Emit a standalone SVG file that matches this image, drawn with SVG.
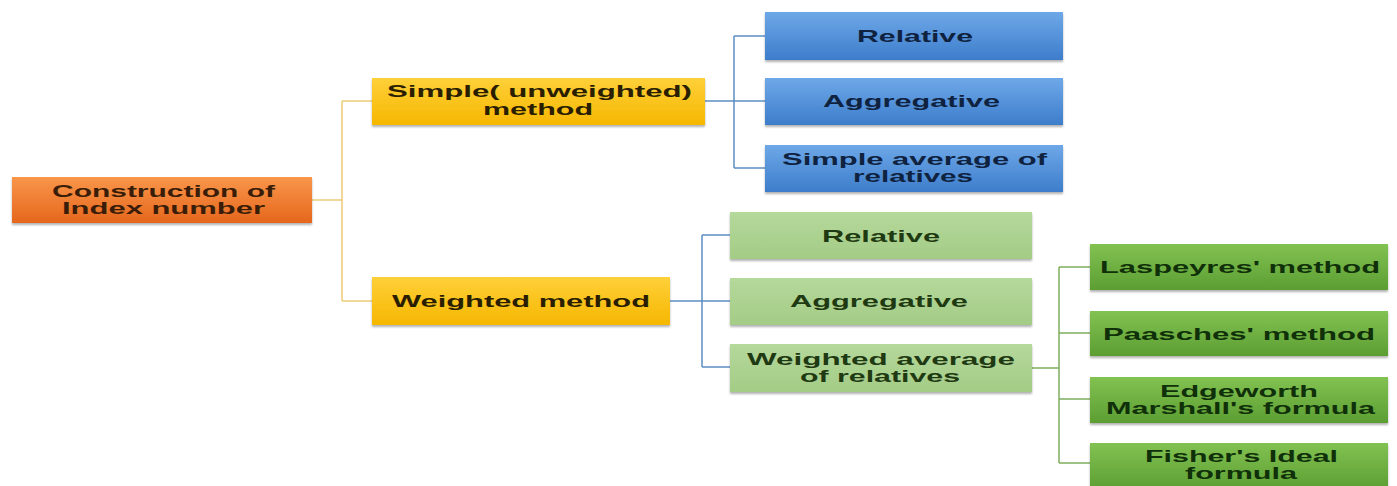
<svg xmlns="http://www.w3.org/2000/svg" width="1397" height="486" viewBox="0 0 1397 486">
<defs>
<linearGradient id="gOr" x1="0" y1="0" x2="0" y2="1"><stop offset="0" stop-color="#F9964A"/><stop offset="1" stop-color="#E5661C"/></linearGradient>
<linearGradient id="gYe" x1="0" y1="0" x2="0" y2="1"><stop offset="0" stop-color="#FFD03A"/><stop offset="1" stop-color="#F6B700"/></linearGradient>
<linearGradient id="gBl" x1="0" y1="0" x2="0" y2="1"><stop offset="0" stop-color="#6EA8E8"/><stop offset="1" stop-color="#3D7DCB"/></linearGradient>
<linearGradient id="gLg" x1="0" y1="0" x2="0" y2="1"><stop offset="0" stop-color="#B5D89B"/><stop offset="1" stop-color="#A3CC86"/></linearGradient>
<linearGradient id="gDg" x1="0" y1="0" x2="0" y2="1"><stop offset="0" stop-color="#82C252"/><stop offset="1" stop-color="#5C9E32"/></linearGradient>
<filter id="sh" x="-5%" y="-10%" width="110%" height="130%"><feDropShadow dx="0" dy="2" stdDeviation="1.2" flood-color="#000" flood-opacity="0.3"/></filter>
</defs>
<style>
text{font-family:"Liberation Sans",Arial,sans-serif;font-size:17px;font-weight:bold}
.box{filter:url(#sh)}
.or{fill:url(#gOr)} .ye{fill:url(#gYe)} .bl{fill:url(#gBl)} .lg{fill:url(#gLg)} .dg{fill:url(#gDg)}
.tOr{fill:#3a1d08} .tYe{fill:#2a1e00} .tBl{fill:#0f2240} .tLg{fill:#1f3a12} .tDg{fill:#10300a}
.c{fill:none;stroke-width:1.5}
.cy{stroke:#EBCB78} .cb{stroke:#5E8EC4} .cg{stroke:#7FAE5E}
</style>
<g id="connectors">
<path class="c cy" d="M312,200 H342 M342,101 V301 M342,101 H372 M342,301 H372"/>
<path class="c cb" d="M705,101 H734 M734,36 V168 M734,36 H765 M734,101 H765 M734,168 H765"/>
<path class="c cb" d="M670,301 H702 M702,235 V367 M702,235 H730 M702,301 H730 M702,367 H730"/>
<path class="c cg" d="M1032,368 H1059 M1059,267 V463 M1059,267 H1090 M1059,333 H1090 M1059,399 H1090 M1059,463 H1090"/>
</g>
<g id="root">
<rect class="box or" x="12" y="177" width="300" height="46"/>
<text class="tOr" x="52" y="197" textLength="223" lengthAdjust="spacingAndGlyphs">Construction of</text>
<text class="tOr" x="62" y="214" textLength="203" lengthAdjust="spacingAndGlyphs">Index number</text>
</g>
<g id="simple">
<rect class="box ye" x="372" y="78" width="333" height="47"/>
<text class="tYe" x="387" y="97" textLength="305" lengthAdjust="spacingAndGlyphs">Simple( unweighted)</text>
<text class="tYe" x="483" y="115" textLength="110" lengthAdjust="spacingAndGlyphs">method</text>
</g>
<g id="weighted">
<rect class="box ye" x="372" y="277" width="298" height="48"/>
<text class="tYe" x="392" y="307" textLength="258" lengthAdjust="spacingAndGlyphs">Weighted method</text>
</g>
<g id="s-relative">
<rect class="box bl" x="765" y="12" width="298" height="48"/>
<text class="tBl" x="857" y="42" textLength="116" lengthAdjust="spacingAndGlyphs">Relative</text>
</g>
<g id="s-aggregative">
<rect class="box bl" x="765" y="78" width="298" height="47"/>
<text class="tBl" x="823" y="107" textLength="177" lengthAdjust="spacingAndGlyphs">Aggregative</text>
</g>
<g id="s-average">
<rect class="box bl" x="765" y="145" width="298" height="47"/>
<text class="tBl" x="782" y="165" textLength="265" lengthAdjust="spacingAndGlyphs">Simple average of</text>
<text class="tBl" x="853" y="182" textLength="120" lengthAdjust="spacingAndGlyphs">relatives</text>
</g>
<g id="w-relative">
<rect class="box lg" x="730" y="212" width="302" height="47"/>
<text class="tLg" x="822" y="242" textLength="118" lengthAdjust="spacingAndGlyphs">Relative</text>
</g>
<g id="w-aggregative">
<rect class="box lg" x="730" y="278" width="302" height="47"/>
<text class="tLg" x="790" y="307" textLength="178" lengthAdjust="spacingAndGlyphs">Aggregative</text>
</g>
<g id="w-average">
<rect class="box lg" x="730" y="344" width="302" height="48"/>
<text class="tLg" x="747" y="365" textLength="268" lengthAdjust="spacingAndGlyphs">Weighted average</text>
<text class="tLg" x="800" y="382" textLength="160" lengthAdjust="spacingAndGlyphs">of relatives</text>
</g>
<g id="laspeyres">
<rect class="box dg" x="1090" y="244" width="298" height="46"/>
<text class="tDg" x="1100" y="273" textLength="280" lengthAdjust="spacingAndGlyphs">Laspeyres' method</text>
</g>
<g id="paasches">
<rect class="box dg" x="1090" y="311" width="298" height="45"/>
<text class="tDg" x="1103" y="340" textLength="272" lengthAdjust="spacingAndGlyphs">Paasches' method</text>
</g>
<g id="edgeworth">
<rect class="box dg" x="1090" y="377" width="298" height="46"/>
<text class="tDg" x="1160" y="397" textLength="158" lengthAdjust="spacingAndGlyphs">Edgeworth</text>
<text class="tDg" x="1106" y="414" textLength="269" lengthAdjust="spacingAndGlyphs">Marshall's formula</text>
</g>
<g id="fisher">
<rect class="box dg" x="1090" y="443" width="298" height="47"/>
<text class="tDg" x="1145" y="462" textLength="193" lengthAdjust="spacingAndGlyphs">Fisher's Ideal</text>
<text class="tDg" x="1185" y="479" textLength="112" lengthAdjust="spacingAndGlyphs">formula</text>
</g>
</svg>
